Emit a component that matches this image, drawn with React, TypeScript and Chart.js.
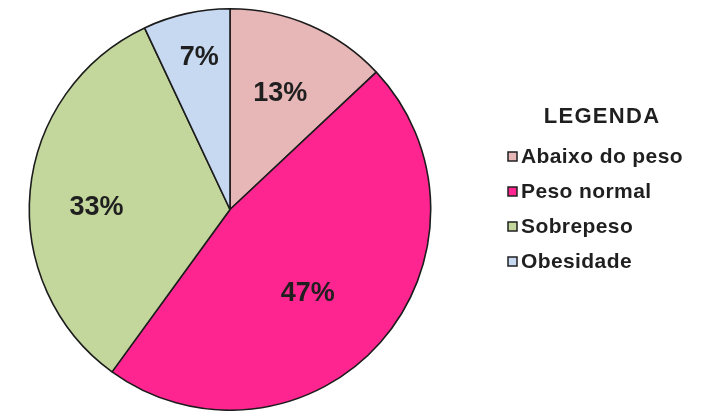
import React, { useEffect, useRef } from "react";
import { Chart, registerables } from "chart.js";

Chart.register(...registerables);

const categories = ["Abaixo do peso", "Peso normal", "Sobrepeso", "Obesidade"];
const values = [13, 47, 33, 7];
const sliceColors = ["#E6B7B6", "#FF2590", "#C3D69B", "#C6D9F1"];
const legendTitle = "LEGENDA";

const labelRadiusFractions = [0.63, 0.57, 0.665, 0.77];
const labelAngleShift = [0, 0.1, -0.08, 0.02];

const FONT = '"Liberation Sans", Arial, sans-serif';

const sliceLabels = {
  id: "sliceLabels",
  afterDatasetsDraw(chart: any) {
    const ctx = chart.ctx;
    const meta = chart.getDatasetMeta(0);
    const data = chart.data.datasets[0].data as number[];
    const total = data.reduce((a, b) => a + b, 0);
    ctx.save();
    ctx.font = `bold 27px ${FONT}`;
    ctx.fillStyle = "#1f1f1f";
    ctx.textAlign = "center";
    ctx.textBaseline = "middle";
    meta.data.forEach((arc: any, i: number) => {
      const p = arc.getProps(["x", "y", "startAngle", "endAngle", "outerRadius"], true);
      const mid = (p.startAngle + p.endAngle) / 2 + labelAngleShift[i];
      const r = p.outerRadius * labelRadiusFractions[i];
      const pct = Math.round((data[i] / total) * 100);
      ctx.fillText(`${pct}%`, p.x + Math.cos(mid) * r, p.y + Math.sin(mid) * r);
    });
    ctx.restore();
  },
};

const sideLegend = {
  id: "sideLegend",
  afterDraw(chart: any) {
    const ctx = chart.ctx;
    const labels = chart.data.labels as string[];
    const colors = chart.data.datasets[0].backgroundColor as string[];
    ctx.save();
    ctx.fillStyle = "#1f1f1f";
    ctx.font = `bold 22px ${FONT}`;
    (ctx as any).letterSpacing = "1.3px";
    ctx.textAlign = "center";
    ctx.textBaseline = "alphabetic";
    ctx.fillText(legendTitle, 602, 123);
    ctx.font = `bold 21px ${FONT}`;
    (ctx as any).letterSpacing = "0.4px";
    ctx.textAlign = "left";
    labels.forEach((lab, i) => {
      const base = 163 + i * 35;
      ctx.fillStyle = colors[i];
      ctx.fillRect(508, base - 11, 9, 9);
      ctx.strokeStyle = "#1f1f1f";
      ctx.lineWidth = 1.5;
      ctx.strokeRect(508, base - 11, 9, 9);
      ctx.fillStyle = "#1f1f1f";
      ctx.fillText(lab, 521, base);
    });
    ctx.restore();
  },
};

export default function App() {
  const ref = useRef<HTMLCanvasElement | null>(null);
  useEffect(() => {
    if (!ref.current) return;
    const chart = new Chart(ref.current, {
      type: "pie",
      data: {
        labels: categories,
        datasets: [
          {
            data: values,
            backgroundColor: sliceColors,
            borderColor: "#1c1c1c",
            borderWidth: 1.6,
          },
        ],
      },
      options: {
        responsive: false,
        animation: false,
        devicePixelRatio: 1,
        layout: { padding: { left: 28, top: 8, right: 269, bottom: 0 } },
        plugins: {
          legend: { display: false },
          tooltip: { enabled: false },
        },
      },
      plugins: [sliceLabels, sideLegend],
    });
    return () => chart.destroy();
  }, []);
  return (
    <div style={{ position: "absolute", left: 0, top: 0, width: 701, height: 411, background: "#fff" }}>
      <canvas ref={ref} width={701} height={411} />
    </div>
  );
}
